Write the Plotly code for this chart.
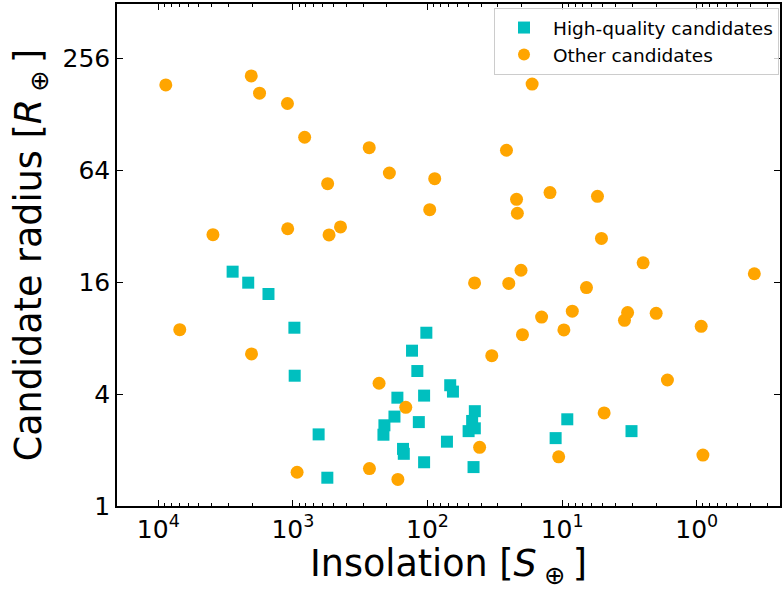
import plotly.graph_objects as go

# High-quality candidates (insolation [S_earth], radius [R_earth])
hq_insolation = [2805, 2148, 1519, 975, 970, 644, 555, 212.5, 209, 176, 167.4, 152, 150,
                 130.3, 119, 116, 106, 106, 102, 71.7, 67.8, 64.7, 49.5, 46.6, 44.5, 44.5,
                 45.5, 11.17, 9.15, 3.05]
hq_radius = [18.27, 15.94, 13.85, 9.12, 5.03, 2.43, 1.42, 2.42, 2.72, 3.03, 3.83, 2.03, 1.91,
             6.86, 5.33, 2.83, 3.93, 1.72, 8.57, 2.22, 4.47, 4.13, 2.53, 2.87, 3.24, 2.62,
             1.62, 2.32, 2.93, 2.53]

# Other candidates
oc_insolation = [8800, 6930, 3928, 2040, 2030, 1770, 1098, 1093, 931, 818, 552, 539, 443,
                 271, 270, 229, 192, 166, 145, 96.3, 88.4, 44.7, 41.0, 33.3, 25.9, 24.9,
                 21.8, 21.5, 20.2, 19.7, 16.7, 14.2, 12.3, 10.6, 9.70, 8.40, 6.59, 5.46,
                 5.10, 4.87, 3.44, 3.26, 2.50, 2.00, 1.65, 0.926, 0.899, 0.373]
oc_radius = [185, 8.90, 28.9, 207, 6.59, 167, 147, 31.1, 1.52, 96.7, 54.4, 28.8, 31.8,
             85.0, 1.59, 4.58, 62.1, 1.39, 3.40, 39.4, 57.9, 15.9, 2.07, 6.45, 82.3, 15.8,
             44.8, 37.7, 18.6, 8.37, 187, 10.4, 48.7, 1.84, 8.87, 11.2, 15.0, 46.5,
             27.6, 3.17, 10.0, 11.0, 20.4, 10.9, 4.77, 9.28, 1.88, 17.8]

x_tickvals = [1e4, 1e3, 1e2, 1e1, 1e0]
x_ticktext = ["10<sup>4</sup>", "10<sup>3</sup>", "10<sup>2</sup>", "10<sup>1</sup>", "10<sup>0</sup>"]
y_tickvals = [1, 4, 16, 64, 256]
y_ticktext = ["1", "4", "16", "64", "256"]

x_minor = [m * 10.0 ** e for e in range(-1, 5) for m in range(2, 10)]

fig = go.Figure()
fig.add_trace(go.Scatter(
    x=hq_insolation, y=hq_radius, mode="markers", name="High-quality candidates",
    marker=dict(symbol="square", size=12, color="#00BFBF", line=dict(width=0)),
))
fig.add_trace(go.Scatter(
    x=oc_insolation, y=oc_radius, mode="markers", name="Other candidates",
    marker=dict(symbol="circle", size=13, color="#FFA500", line=dict(width=0)),
))

font_family = "DejaVu Sans"
fig.update_layout(
    width=784, height=590,
    margin=dict(l=117, r=2, t=4, b=84),
    paper_bgcolor="white", plot_bgcolor="white",
    font=dict(family=font_family, color="black"),
    showlegend=True,
    legend=dict(
        x=0.9985, xanchor="right", y=0.992, yanchor="top",
        bgcolor="rgba(255,255,255,0.8)", bordercolor="#cccccc", borderwidth=1,
        font=dict(size=18.5, family=font_family), itemsizing="constant",
        itemwidth=48,
    ),
)
fig.update_xaxes(
    type="log", range=[4.307, -0.619],
    tickmode="array", tickvals=x_tickvals, ticktext=x_ticktext,
    ticks="inside", ticklen=6, tickwidth=1.2, tickcolor="black",
    tickfont=dict(size=25, family=font_family),
    showline=True, linecolor="black", linewidth=1.5, mirror="allticks",
    showgrid=False, zeroline=False,
    minor=dict(tickmode="array", tickvals=x_minor, ticks="inside", ticklen=3.5,
               tickwidth=1, tickcolor="black", showgrid=False),
    title=dict(text="Insolation [<i>S</i>\u2009<sub>⊕</sub>\u2009]", font=dict(size=36.5, family=font_family), standoff=6),
)
fig.update_yaxes(
    type="log", range=[0, 2.703],
    tickmode="array", tickvals=y_tickvals, ticktext=y_ticktext,
    ticks="inside", ticklen=6, tickwidth=1.2, tickcolor="black",
    tickfont=dict(size=25, family=font_family),
    showline=True, linecolor="black", linewidth=1.5, mirror="allticks",
    showgrid=False, zeroline=False,
    title=dict(text="Candidate radius [<i>R</i>\u2009<sub>⊕</sub>\u2009]", font=dict(size=36.5, family=font_family), standoff=10),
)

fig.write_html("out.html", config={"displayModeBar": False},
               post_script="document.body.style.margin='0px';")
